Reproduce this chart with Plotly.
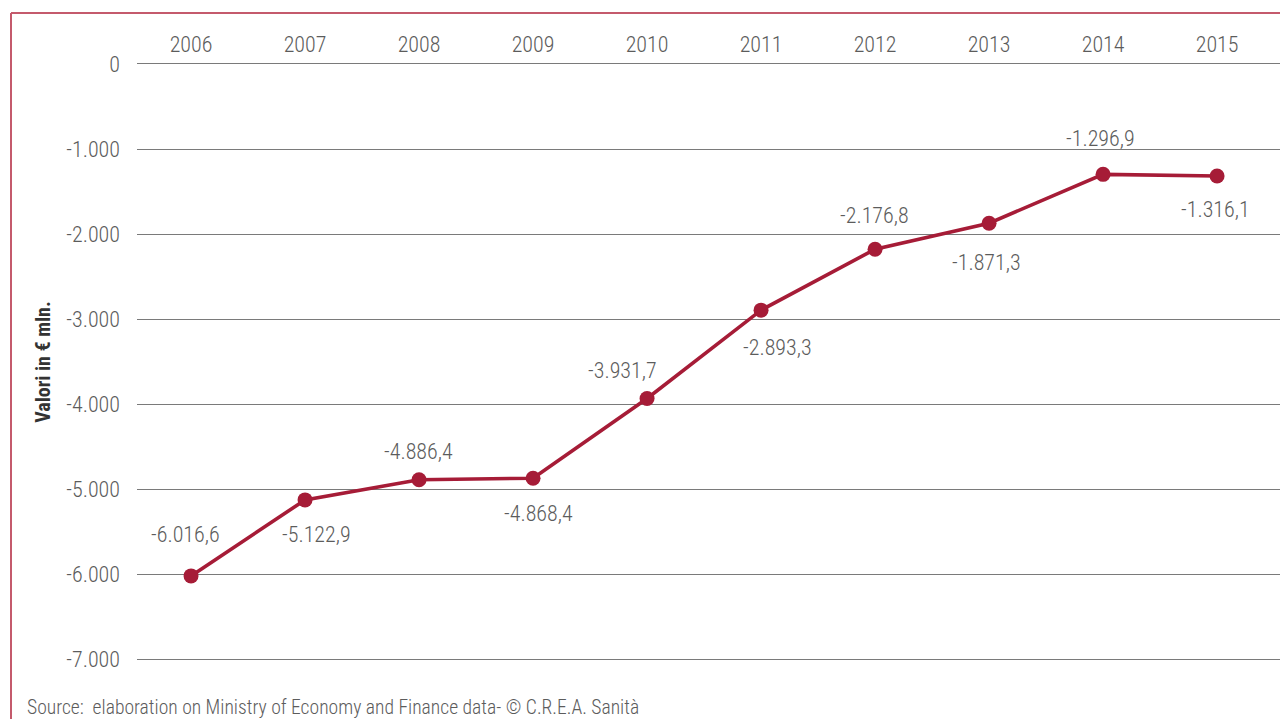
import plotly.graph_objects as go

# Saldo annuale (valori in milioni di euro)
years = ["2006", "2007", "2008", "2009", "2010", "2011", "2012", "2013", "2014", "2015"]
values = [-6016.6, -5122.9, -4886.4, -4868.4, -3931.7, -2893.3, -2176.8, -1871.3, -1296.9, -1316.1]
y_ticks = [0, -1000, -2000, -3000, -4000, -5000, -6000, -7000]

# Label placement around each point (pixels): horizontal shift, vertical shift
label_dx = [-6, 11, -1, 5, -25, 16, -1, -3, -3, -2]
label_dy = [41, -35, 28, -35, 28, -37, 34, -39, 36, -34]

FONT = "Roboto Condensed, Liberation Sans Narrow, Arial Narrow, sans-serif"
LINE_RED = "#a61c37"
FRAME_RED = "#c45a6c"
TEXT_GRAY = "#5c5c5c"


def it_fmt(v, dec=1):
    s = f"{v:,.{dec}f}"
    return s.replace(",", "_").replace(".", ",").replace("_", ".")


W, H = 1280, 719
L, R, T, B = 137, 0, 61, 56
pw, ph = W - L - R, H - T - B


def px_x(p):
    return (p - L) / pw


def px_y(p):
    return (H - B - p) / ph


fig = go.Figure()
fig.add_trace(go.Scatter(
    x=list(range(len(years))), y=values, mode="lines+markers",
    line=dict(color=LINE_RED, width=3.6),
    marker=dict(color=LINE_RED, size=15),
    cliponaxis=False, showlegend=False, hoverinfo="skip",
))

annotations = []
for i, (v, dx, dy) in enumerate(zip(values, label_dx, label_dy)):
    annotations.append(dict(
        x=i, y=v, xref="x", yref="y", text=it_fmt(v), showarrow=False,
        xshift=dx, yshift=dy, font=dict(family=FONT, size=22, color=TEXT_GRAY, weight=300),
    ))

# Source note
annotations.append(dict(
    x=px_x(25), y=px_y(707), xref="paper", yref="paper",
    text="Source:  elaboration on Ministry of Economy and Finance data- © C.R.E.A. Sanità",
    showarrow=False, font=dict(family=FONT, size=19.6, color=TEXT_GRAY, weight=300),
    xanchor="left", yanchor="middle",
))

shapes = [
    # frame on the left and top edges
    dict(type="line", xref="paper", yref="paper", x0=px_x(11), x1=px_x(11), y0=px_y(13), y1=px_y(730),
         line=dict(color=FRAME_RED, width=2)),
    dict(type="line", xref="paper", yref="paper", x0=px_x(11), x1=px_x(1290), y0=px_y(13), y1=px_y(13),
         line=dict(color=FRAME_RED, width=2)),
]

fig.update_layout(
    width=W, height=H,
    margin=dict(l=L, r=R, t=T, b=B, pad=0),
    paper_bgcolor="white", plot_bgcolor="white",
    font=dict(family=FONT, size=22, color=TEXT_GRAY),
    annotations=annotations, shapes=shapes,
    xaxis=dict(
        range=[-0.474, 9.552], tickvals=list(range(len(years))), ticktext=years,
        side="top", showgrid=False, showline=False, zeroline=False, ticks="",
        tickfont=dict(family=FONT, size=22, color=TEXT_GRAY, weight=300),
        ticklabelstandoff=4,
    ),
    yaxis=dict(
        range=[-7040, 35], tickvals=y_ticks, ticktext=[it_fmt(v, 0) for v in y_ticks],
        showgrid=True, gridcolor="#7a7a7a", gridwidth=1.4,
        zeroline=False, showline=False, ticks="",
        tickfont=dict(family=FONT, size=22, color=TEXT_GRAY, weight=300),
        ticklabelstandoff=16,
        title=dict(text="<b>Valori in € mln.</b>", font=dict(family=FONT, size=20, color="#333333"), standoff=10),
    ),
)

fig.write_html("out.html")
